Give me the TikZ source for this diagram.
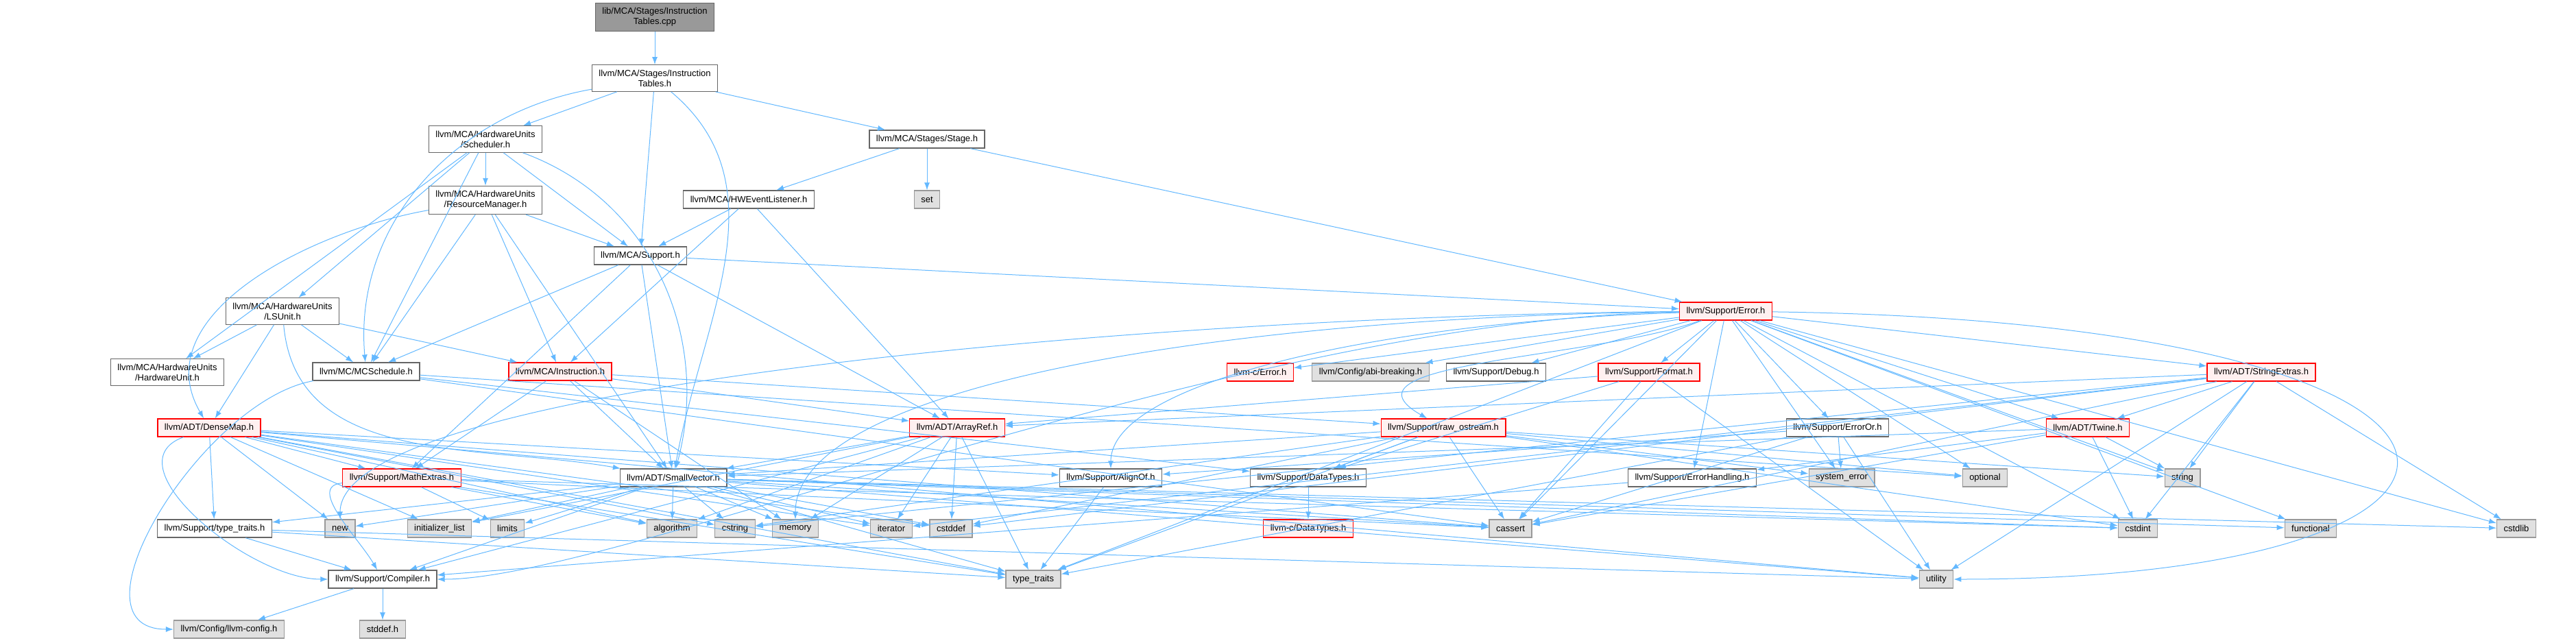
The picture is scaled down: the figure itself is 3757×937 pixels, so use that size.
\documentclass[tikz,border=0pt]{standalone}
\usepackage{fontspec}
\setmainfont{Liberation Sans}
\usetikzlibrary{arrows.meta}

\definecolor{depblue}{HTML}{63B8FF}
\definecolor{grayline}{HTML}{666666}
\definecolor{sysline}{HTML}{999999}
\definecolor{sysfill}{HTML}{E0E0E0}
\definecolor{cutfill}{HTML}{FFF0F0}

\tikzstyle{box} = [rectangle, draw, line width=1.2pt, inner xsep=10pt, inner ysep=7pt,
                   minimum height=26pt, align=center, font=\fontsize{13}{15}\selectfont]
\tikzstyle{rootfile} = [box, draw=grayline, fill=sysline]
\tikzstyle{incl} = [box, draw=grayline, fill=white]
\tikzstyle{cut} = [box, draw=red, fill=cutfill]
\tikzstyle{sysinc} = [box, draw=sysline, fill=sysfill]
\tikzstyle{dep} = [draw=depblue, line width=1pt, -{Latex[length=11pt,width=8pt]}]

\begin{document}
\begin{tikzpicture}[x=1pt, y=-1pt]
\useasboundingbox (0,0) rectangle (3757,937);

% rows from top to bottom
\node[rootfile] (root) at (955,25) {lib/MCA/Stages/Instruction\\Tables.cpp};
\node[incl] (itab) at (955,114) {llvm/MCA/Stages/Instruction\\Tables.h};
\node[incl] (sched) at (708,203) {llvm/MCA/HardwareUnits\\/Scheduler.h};
\node[incl] (stage) at (1352,203) {llvm/MCA/Stages/Stage.h};
\node[incl] (resmgr) at (708,292) {llvm/MCA/HardwareUnits\\/ResourceManager.h};
\node[incl] (hwevt) at (1092,291) {llvm/MCA/HWEventListener.h};
\node[sysinc] (set) at (1352,291) {set};
\node[incl] (support) at (934,373) {llvm/MCA/Support.h};
\node[incl] (lsunit) at (412,454) {llvm/MCA/HardwareUnits\\/LSUnit.h};
\node[cut] (error) at (2517,454) {llvm/Support/Error.h};
\node[incl] (hwunit) at (244,543) {llvm/MCA/HardwareUnits\\/HardwareUnit.h};
\node[incl] (mcsched) at (534,542) {llvm/MC/MCSchedule.h};
\node[cut] (instr) at (817,542) {llvm/MCA/Instruction.h};
\node[cut] (cerror) at (1838,543) {llvm-c/Error.h};
\node[sysinc] (abi) at (1999,543) {llvm/Config/abi-breaking.h};
\node[incl] (debug) at (2182,543) {llvm/Support/Debug.h};
\node[cut] (format) at (2405,543) {llvm/Support/Format.h};
\node[cut] (strext) at (3298,543) {llvm/ADT/StringExtras.h};
\node[cut] (densemap) at (305,624) {llvm/ADT/DenseMap.h};
\node[cut] (arrayref) at (1396,624) {llvm/ADT/ArrayRef.h};
\node[cut] (rawos) at (2105,624) {llvm/Support/raw\_ostream.h};
\node[incl] (erroror) at (2680,624) {llvm/Support/ErrorOr.h};
\node[cut] (twine) at (3045,624) {llvm/ADT/Twine.h};
\node[cut] (mathext) at (586,697) {llvm/Support/MathExtras.h};
\node[incl] (smallvec) at (982,697) {llvm/ADT/SmallVector.h};
\node[incl] (alignof) at (1620,697) {llvm/Support/AlignOf.h};
\node[incl] (datatypes) at (1908,697) {llvm/Support/DataTypes.h};
\node[incl] (errhand) at (2468,697) {llvm/Support/ErrorHandling.h};
\node[sysinc] (syserr) at (2686,697) {system\_error};
\node[sysinc] (optional) at (2895,697) {optional};
\node[sysinc] (string) at (3183,697) {string};
\node[incl] (typetr) at (313,771) {llvm/Support/type\_traits.h};
\node[sysinc] (new) at (496,771) {new};
\node[sysinc] (initl) at (641,771) {initializer\_list};
\node[sysinc] (limits) at (740,771) {limits};
\node[sysinc] (algorithm) at (980,771) {algorithm};
\node[sysinc] (cstring) at (1072,771) {cstring};
\node[sysinc] (memory) at (1160,771) {memory};
\node[sysinc] (iterator) at (1300,771) {iterator};
\node[sysinc] (cstddef) at (1387,771) {cstddef};
\node[cut] (cdatatypes) at (1908,771) {llvm-c/DataTypes.h};
\node[sysinc] (cassert) at (2203,771) {cassert};
\node[sysinc] (cstdint) at (3118,771) {cstdint};
\node[sysinc] (functional) at (3370,771) {functional};
\node[sysinc] (cstdlib) at (3670,771) {cstdlib};
\node[incl] (compiler) at (558,845) {llvm/Support/Compiler.h};
\node[sysinc] (typetraits) at (1507,845) {type\_traits};
\node[sysinc] (utility) at (2824,845) {utility};
\node[sysinc] (llvmconfig) at (334,918) {llvm/Config/llvm-config.h};
\node[sysinc] (stddef) at (558,918) {stddef.h};

% MCA headers
\path (root) edge[dep] (itab);
\path (itab) edge[dep] (sched) edge[dep] (stage) edge[dep] (support)
      edge[dep, out=190, in=95] (mcsched) edge[dep, out=-40, in=80] (smallvec);
\path (sched) edge[dep] (hwunit) edge[dep] (lsunit) edge[dep] (mcsched)
      edge[dep] (resmgr) edge[dep] (support) edge[dep, out=-20, in=75] (smallvec);
\path (stage) edge[dep] (hwevt) edge[dep] (set) edge[dep] (error);
\path (resmgr) edge[dep, out=190, in=120] (densemap) edge[dep] (mcsched)
      edge[dep] (instr) edge[dep] (smallvec) edge[dep] (support);
\path (hwevt) edge[dep] (support) edge[dep] (instr) edge[dep] (arrayref);
\path (support) edge[dep] (mcsched) edge[dep] (mathext) edge[dep] (smallvec)
      edge[dep] (arrayref) edge[dep] (error);
\path (lsunit) edge[dep] (hwunit) edge[dep] (densemap) edge[dep] (mcsched)
      edge[dep] (instr) edge[dep, out=-85, in=170] (smallvec);
\path (mcsched) edge[dep, out=190, in=180] (llvmconfig) edge[dep] (datatypes)
      edge[dep] (cassert) edge[dep] (optional);
\path (instr) edge[dep] (arrayref) edge[dep] (rawos) edge[dep] (mathext)
      edge[dep] (smallvec) edge[dep] (memory);

% llvm/Support/Error.h
\path (error) edge[dep] (cerror) edge[dep] (abi) edge[dep] (debug) edge[dep] (format)
      edge[dep, out=200, in=150] (rawos) edge[dep] (erroror) edge[dep] (twine) edge[dep] (strext)
      edge[dep] (errhand) edge[dep] (syserr) edge[dep] (optional)
      edge[dep] (string) edge[dep] (cassert) edge[dep] (cstdint) edge[dep] (functional)
      edge[dep] (cstdlib) edge[dep] (typetraits);
\draw[dep] (error) .. controls (2000,470) and (1620,560) .. (alignof);
\draw[dep] (error) .. controls (1800,462) and (1160,560) .. (memory);
\draw[dep] (error) .. controls (1700,460) and (496,560) .. (new);
\draw[dep] (error) .. controls (1800,465) and (900,845) .. (compiler);
\draw[dep] (error) .. controls (3750,470) and (3750,845) .. (utility);

% second level
\path (format) edge[dep] (arrayref) edge[dep] (datatypes) edge[dep] (cassert) edge[dep] (utility);
\path (strext) edge[dep] (arrayref) edge[dep] (twine) edge[dep] (string) edge[dep] (cassert)
      edge[dep] (cstddef) edge[dep] (cstdint) edge[dep] (cstdlib) edge[dep] (cstring)
      edge[dep] (iterator) edge[dep] (utility);
\path (densemap) edge[dep] (mathext) edge[dep] (typetr) edge[dep] (new) edge[dep] (initl)
      edge[dep] (algorithm) edge[dep] (alignof) edge[dep] (cassert) edge[dep] (cstddef)
      edge[dep] (cstring) edge[dep] (iterator) edge[dep, out=200, in=180] (compiler)
      edge[dep] (typetraits) edge[dep] (utility);
\path (arrayref) edge[dep] (smallvec) edge[dep] (algorithm) edge[dep] (cstddef)
      edge[dep] (initl) edge[dep] (iterator) edge[dep] (memory) edge[dep] (compiler)
      edge[dep] (typetraits);
\path (rawos) edge[dep] (smallvec) edge[dep] (datatypes) edge[dep] (cassert)
      edge[dep] (cstddef) edge[dep] (cstdint) edge[dep] (cstring) edge[dep] (optional)
      edge[dep] (string) edge[dep] (syserr) edge[dep] (typetraits);
\path (erroror) edge[dep] (alignof) edge[dep] (cassert) edge[dep] (syserr)
      edge[dep] (typetraits) edge[dep] (utility);
\path (twine) edge[dep] (smallvec) edge[dep] (errhand) edge[dep] (cassert)
      edge[dep] (cstdint) edge[dep] (string);
\path (mathext) edge[dep, out=185, in=120] (compiler) edge[dep] (limits) edge[dep] (cassert)
      edge[dep] (cstdint) edge[dep] (typetraits) edge[dep] (algorithm);
\path (smallvec) edge[dep] (typetr) edge[dep] (new) edge[dep] (initl) edge[dep] (limits)
      edge[dep] (algorithm) edge[dep] (cstring) edge[dep] (memory) edge[dep] (iterator)
      edge[dep] (cstddef) edge[dep] (cassert) edge[dep] (cstdint) edge[dep] (cstdlib)
      edge[dep] (functional) edge[dep] (compiler) edge[dep] (typetraits) edge[dep] (utility);

% leaves
\path (alignof) edge[dep] (typetraits);
\path (datatypes) edge[dep] (cdatatypes);
\path (errhand) edge[dep] (compiler);
\path (typetr) edge[dep] (compiler) edge[dep] (typetraits) edge[dep] (utility);
\path (compiler) edge[dep] (llvmconfig) edge[dep] (stddef);
\end{tikzpicture}
\end{document}
